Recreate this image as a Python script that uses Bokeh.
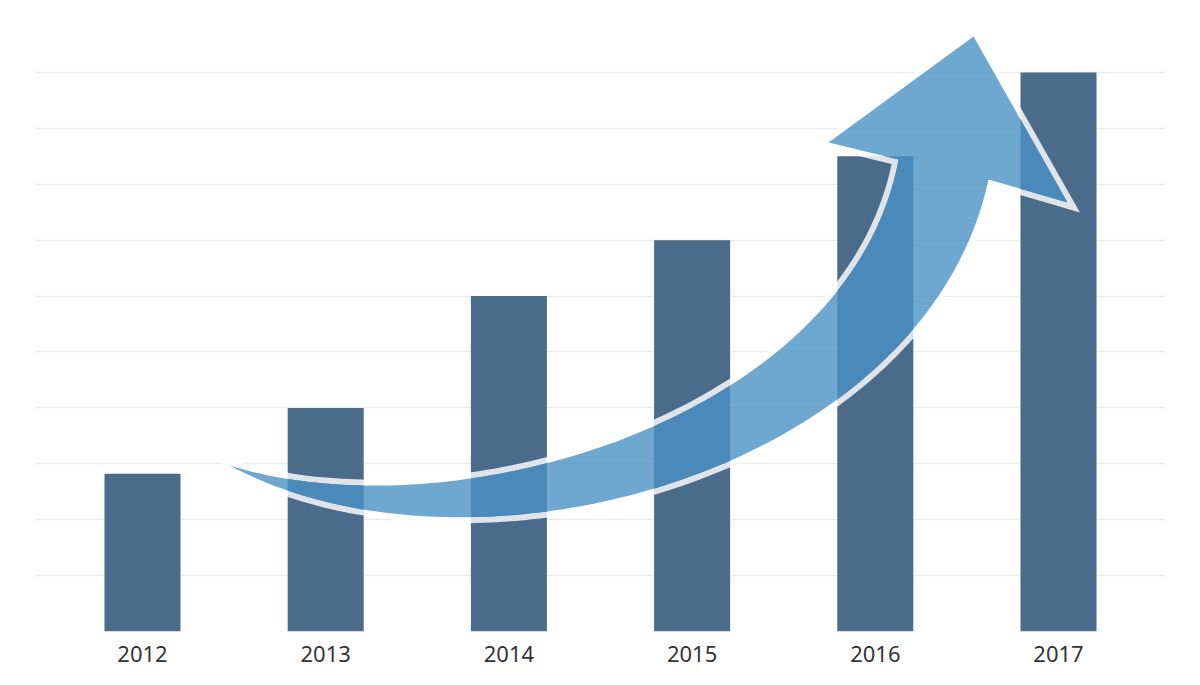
import numpy as np
from bokeh.plotting import figure
from bokeh.models import Range1d, FixedTicker, ColumnDataSource
from bokeh.embed import file_html
from bokeh.resources import INLINE

# ---- data ----
years = ["2012", "2013", "2014", "2015", "2016", "2017"]
values = [2.82, 4.0, 6.0, 7.0, 8.5, 10.0]

# ---- decorative arrow outline (data units: x = category index, y = value) ----
arrow_tail = (0.475, 2.97)
arrow_inner = [(0.791, 2.701), (1.026, 2.648), (1.206, 2.630), (1.790, 2.755),
               (2.282, 3.059), (2.795, 3.649), (3.204, 4.365), (3.483, 5.152),
               (3.794, 6.118), (3.990, 6.995), (4.083, 7.764), (4.127, 8.444)]
arrow_outer = [(0.791, 2.540), (1.026, 2.308), (1.206, 2.200), (1.790, 2.039),
               (2.282, 2.165), (2.795, 2.522), (3.204, 3.023), (3.483, 3.596),
               (3.794, 4.186), (4.209, 5.385), (4.372, 6.100), (4.503, 6.869),
               (4.574, 7.478), (4.618, 8.086)]
arrow_head = [(3.745, 8.748), (4.536, 10.644), (5.049, 7.674)]

SX, SY = 183.2, 55.9  # pixel scale used only for isotropic geometry


def bez(P, t):
    t = t[:, None]
    return ((1 - t) ** 3) * P[0] + 3 * ((1 - t) ** 2) * t * P[1] \
        + 3 * (1 - t) * t * t * P[2] + t ** 3 * P[3]


def fit_cubic(pts, n_out=120):
    q = np.array(pts, dtype=float) * [SX, SY]
    d = np.r_[0, np.cumsum(np.hypot(*np.diff(q, axis=0).T))]
    t = d / d[-1]
    P0, P3 = q[0], q[-1]
    dense = np.linspace(0, 1, 2001)
    for _ in range(30):
        b0 = (1 - t) ** 3
        b1 = 3 * (1 - t) ** 2 * t
        b2 = 3 * (1 - t) * t ** 2
        b3 = t ** 3
        A = np.c_[b1, b2]
        rhs = q - np.outer(b0, P0) - np.outer(b3, P3)
        sol, *_ = np.linalg.lstsq(A, rhs, rcond=None)
        P = np.array([P0, sol[0], sol[1], P3])
        curve = bez(P, dense)
        idx = np.argmin(((q[:, None, :] - curve[None, :, :]) ** 2).sum(-1), axis=1)
        t = dense[idx]
        t[0], t[-1] = 0.0, 1.0
    return bez(P, np.linspace(0, 1, n_out)) / [SX, SY]


def offset_out(poly, dist):
    q = poly * [SX, SY]
    x, y = q[:, 0], q[:, 1]
    area = 0.5 * np.sum(x * np.roll(y, -1) - np.roll(x, -1) * y)
    e = np.roll(q, -1, axis=0) - q
    e = e / np.maximum(np.hypot(e[:, 0], e[:, 1]), 1e-9)[:, None]
    n = np.c_[-e[:, 1], e[:, 0]] if area < 0 else np.c_[e[:, 1], -e[:, 0]]
    n_prev = np.roll(n, 1, axis=0)
    m = n + n_prev
    m = m / np.maximum(np.hypot(m[:, 0], m[:, 1]), 1e-9)[:, None]
    cosh = np.clip((m * n).sum(1), 0.34, 1.0)
    q2 = q + m * (dist / cosh)[:, None]
    return q2 / [SX, SY]


inner = fit_cubic([arrow_tail] + arrow_inner)
outer = fit_cubic([arrow_tail] + arrow_outer)
poly = np.vstack([inner, np.array(arrow_head), outer[::-1][:-1]])
ring = offset_out(poly, 3.0)
ring = np.vstack([ring, ring[:1]])

p = figure(width=1184, height=677, output_backend="svg", toolbar_location=None,
           x_range=Range1d(-0.584, 5.584), y_range=Range1d(0, 11.288),
           min_border_left=35, min_border_right=19, min_border_top=0,
           min_border_bottom=46)
p.outline_line_color = None
p.background_fill_color = "white"
p.border_fill_color = "white"

src = ColumnDataSource(dict(x=list(range(len(years))), top=values))
p.vbar(x="x", top="top", width=0.415, bottom=0, source=src,
       fill_color="#4a6b8a", line_color=None)

# white outline just outside the arrow, then translucent fill
p.line(ring[:, 0], ring[:, 1], line_color="white", line_alpha=0.82,
       line_width=6, line_join="miter")
p.patch(poly[:, 0], poly[:, 1], fill_color="#4a92c6", fill_alpha=0.8,
        line_color=None)

p.xgrid.grid_line_color = None
p.ygrid.grid_line_color = "#e9e9e9"
p.ygrid.grid_line_width = 1.5
p.yaxis.ticker = FixedTicker(ticks=list(range(0, 11)))
p.yaxis.visible = False

p.xaxis.ticker = FixedTicker(ticks=list(range(len(years))))
p.xaxis.major_label_overrides = {i: y for i, y in enumerate(years)}
p.xaxis.axis_line_color = None
p.xaxis.major_tick_line_color = None
p.xaxis.minor_tick_line_color = None
p.xaxis.major_tick_out = 0
p.xaxis.major_label_standoff = 14
p.xaxis.major_label_text_font = "Noto Sans"
p.xaxis.major_label_text_font_size = "22px"
p.xaxis.major_label_text_color = "#333333"

open("out.html", "w").write(file_html(p, INLINE))
